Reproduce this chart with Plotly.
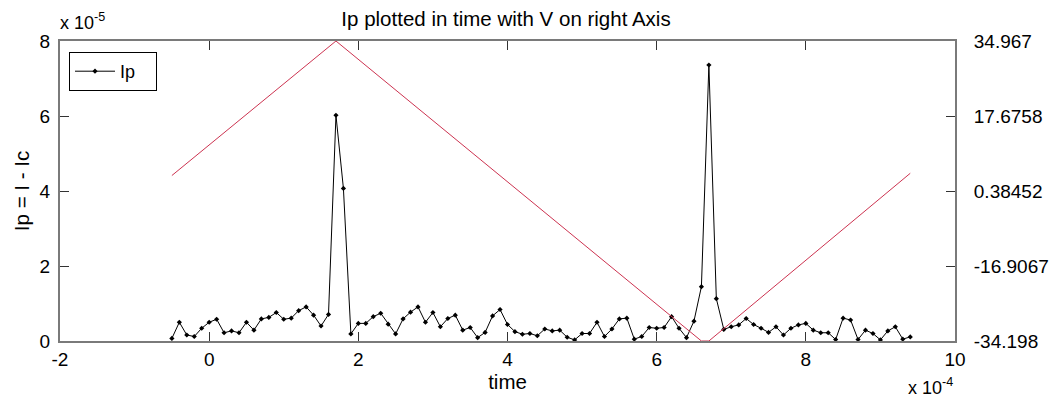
import numpy as np
import plotly.graph_objects as go

# Sampling grid: time in seconds, 1e-5 s steps from -0.5e-4 to 9.4e-4
time_e4 = np.round(np.arange(-0.5, 9.45, 0.1), 1)
time = time_e4 * 1e-4

# Peak current Ip = I - Ic, in units of 1e-5 A
ip_e5 = [
    0.07, 0.50, 0.16, 0.12, 0.34,
    0.50, 0.58, 0.22, 0.27, 0.22, 0.50, 0.29, 0.59, 0.63, 0.76,
    0.58, 0.61, 0.81, 0.91, 0.69, 0.40, 0.71, 6.02, 4.07, 0.19,
    0.47, 0.47, 0.65, 0.74, 0.45, 0.19, 0.59, 0.77, 0.91, 0.50,
    0.76, 0.38, 0.60, 0.69, 0.29, 0.36, 0.09, 0.23, 0.67, 0.84,
    0.44, 0.25, 0.18, 0.20, 0.14, 0.32, 0.27, 0.29, 0.10, 0.03,
    0.20, 0.20, 0.50, 0.12, 0.32, 0.59, 0.61, 0.05, 0.12, 0.36,
    0.34, 0.36, 0.65, 0.34, 0.09, 0.53, 1.45, 7.36, 1.13, 0.31,
    0.38, 0.43, 0.60, 0.44, 0.34, 0.23, 0.38, 0.16, 0.34, 0.43,
    0.47, 0.29, 0.22, 0.22, 0.04, 0.61, 0.56, 0.04, 0.29, 0.20,
    0.03, 0.27, 0.38, 0.05, 0.11,
]
ip = np.array(ip_e5) * 1e-5

# Applied potential sweep (triangle), vertices in time (1e-4 s) and V
v_time_e4 = [-0.5, 1.7, 6.6, 6.7, 9.4]
v_values = [3.95, 34.967, -34.198, -34.198, 4.47]
v_time = np.array(v_time_e4) * 1e-4

# Axis ticks
x_ticks_e4 = [-2, 0, 2, 4, 6, 8, 10]
y_ticks_e5 = [0, 2, 4, 6, 8]
v_ticks = [-34.198, -16.9067, 0.38452, 17.6758, 34.967]
v_tick_text = ["-34.198", "-16.9067", "0.38452", "17.6758", "34.967"]

FONT = "Liberation Sans, Arial, sans-serif"
AX_LINE = "#7a7a7a"

fig = go.Figure()

fig.add_trace(go.Scatter(
    x=time, y=ip, name="Ip\u00a0\u00a0\u00a0", mode="lines+markers",
    line=dict(color="black", width=1),
    marker=dict(color="black", size=4, symbol="diamond"),
    yaxis="y",
))

fig.add_trace(go.Scatter(
    x=v_time, y=v_values, name="V", mode="lines",
    line=dict(color="#cc3350", width=1),
    yaxis="y2", showlegend=False,
))

fig.update_layout(
    width=1050, height=401,
    margin=dict(l=60, r=95, t=41, b=60),
    paper_bgcolor="white", plot_bgcolor="white",
    font=dict(family=FONT, size=19, color="black"),
    title=dict(text="Ip plotted in time with V on right Axis",
               x=506 / 1050, xanchor="center", y=1 - 19 / 401, yanchor="middle",
               font=dict(size=20.5)),
    xaxis=dict(
        range=[-2e-4, 10e-4],
        tickvals=[v * 1e-4 for v in x_ticks_e4],
        ticktext=[str(v) for v in x_ticks_e4],
        ticks="inside", ticklen=9, tickcolor="#333", tickwidth=1,
        showline=True, linecolor=AX_LINE, linewidth=2, mirror="ticks",
        showgrid=False, zeroline=False, automargin=False,
        title=dict(text="time", standoff=6, font=dict(size=20.5)),
    ),
    yaxis=dict(
        range=[0, 8e-5],
        tickvals=[v * 1e-5 for v in y_ticks_e5],
        ticktext=[str(v) for v in y_ticks_e5],
        ticks="inside", ticklen=9, tickcolor="#333", tickwidth=1,
        showline=True, linecolor=AX_LINE, linewidth=2, mirror=True,
        showgrid=False, zeroline=False, automargin=False,
        ticklabelstandoff=4,
        title=dict(text="Ip = I - Ic", standoff=4, font=dict(size=20.5)),
    ),
    yaxis2=dict(
        range=[-34.198, 34.967],
        tickvals=v_ticks, ticktext=v_tick_text,
        overlaying="y", side="right",
        ticks="inside", ticklen=9, tickcolor="#333", tickwidth=1,
        showline=True, linecolor=AX_LINE, linewidth=2,
        showgrid=False, zeroline=False, automargin=False,
        ticklabelstandoff=13,
    ),
    legend=dict(
        x=(69 - 60) / 895, y=1 - (52 - 41) / 300, xanchor="left", yanchor="top",
        bgcolor="white", bordercolor="black", borderwidth=1,
        font=dict(size=18), itemwidth=40,
        tracegroupgap=0,
    ),
    showlegend=True,
)

# Axis multipliers
fig.add_annotation(xref="paper", yref="paper", x=0, y=1, xshift=-2, yshift=6,
                   xanchor="left", yanchor="bottom", showarrow=False,
                   text="x 10<sup>-5</sup>", font=dict(size=18))
fig.add_annotation(xref="paper", yref="paper", x=1, y=0, yshift=-32,
                   xanchor="right", yanchor="top", showarrow=False,
                   text="x 10<sup>-4</sup>", font=dict(size=18))

fig.write_html("out.html")
